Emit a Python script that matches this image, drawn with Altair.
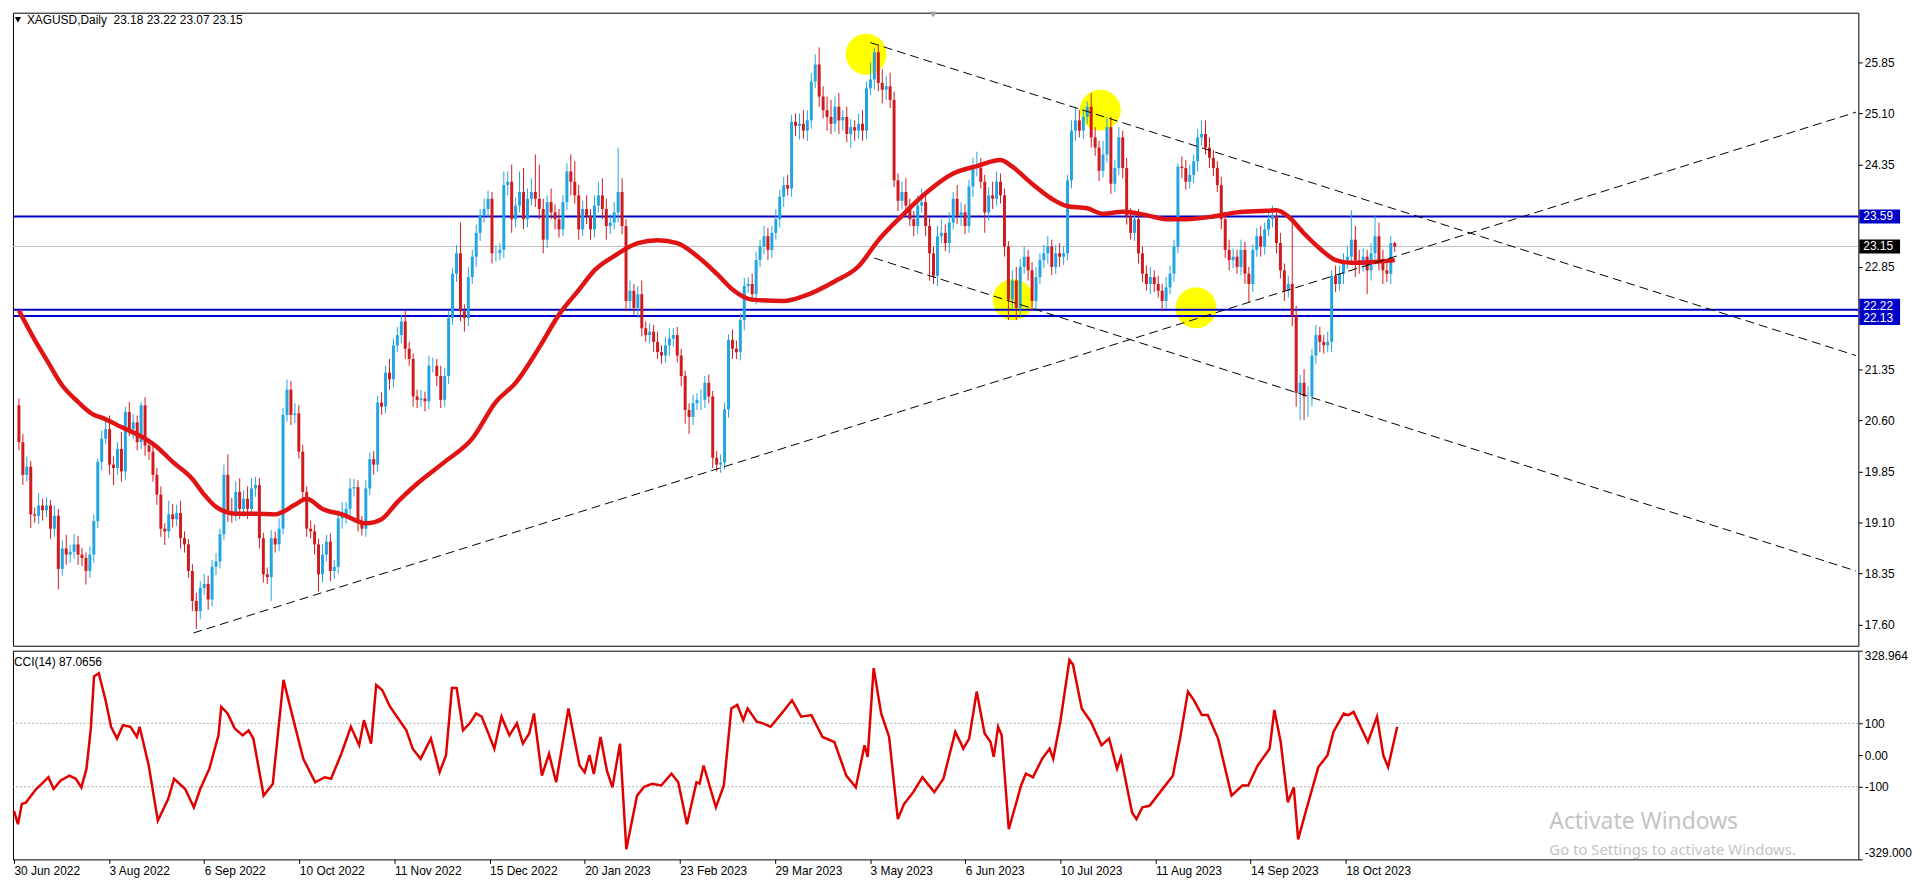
import altair as alt
import pandas as pd

# ---------------- data ----------------
first_open = 20.82
closes = [
    20.28, 19.80, 19.92, 19.22, 19.20, 19.35, 19.28, 19.35, 19.01, 19.20,
    18.42, 18.72, 18.63, 18.67, 18.78, 18.63, 18.58, 18.39, 18.63, 19.12,
    19.99, 20.33, 20.47, 19.95, 19.90, 20.18, 19.85, 20.72, 20.47, 20.57,
    20.28, 20.82, 20.23, 20.14, 19.80, 19.51, 19.01, 18.97, 19.22, 19.15,
    19.24, 18.87, 18.78, 18.39, 17.95, 17.80, 18.14, 18.20, 17.97, 18.45,
    18.53, 18.93, 19.80, 19.26, 19.22, 19.55, 19.30, 19.45, 19.30, 19.60,
    19.65, 18.87, 18.34, 18.30, 18.87, 18.78, 19.01, 20.68, 21.05, 20.68,
    20.70, 20.14, 19.55, 19.01, 18.97, 18.78, 18.34, 18.63, 18.82, 18.39,
    18.45, 19.16, 19.20, 19.30, 19.60, 19.62, 19.12, 19.01, 19.60, 20.03,
    19.95, 20.86, 20.80, 21.30, 21.20, 21.70, 21.85, 22.05, 21.65, 21.50,
    20.95, 20.90, 20.92, 20.88, 21.40, 21.40, 21.25, 20.90, 21.25, 22.10,
    22.75, 23.05, 22.20, 22.10, 22.70, 23.00, 23.35, 23.60, 23.70, 23.85,
    23.05, 23.05, 23.10, 24.05, 24.10, 23.55, 23.75, 23.95, 23.55, 23.85,
    23.95, 23.85, 23.70, 23.25, 23.80, 23.65, 23.55, 23.40, 23.80, 24.25,
    24.10, 23.90, 23.40, 23.70, 23.60, 23.40, 23.75, 23.90, 23.70, 23.45,
    23.50, 23.65, 23.95, 23.45, 22.35, 22.50, 22.25, 22.45, 21.95, 21.85,
    21.90, 21.75, 21.60, 21.55, 21.70, 21.80, 21.85, 21.55, 21.25, 20.75,
    20.65, 20.85, 20.90, 20.90, 21.15, 20.95, 20.05, 19.95, 19.98, 20.76,
    21.78, 21.65, 21.60, 22.07, 22.57, 22.60, 22.45, 22.95, 23.15, 23.30,
    23.10, 23.35, 23.55, 23.88, 24.05, 24.00, 24.98, 24.92, 24.95, 24.85,
    25.00, 25.57, 25.82, 25.35, 25.15, 25.05, 24.95, 25.20, 25.00, 25.05,
    24.80, 24.90, 24.85, 24.95, 24.85, 25.47, 25.60, 26.00, 25.55, 25.45,
    25.50, 25.30, 24.12, 23.82, 23.95, 23.75, 23.55, 23.45, 23.75, 23.80,
    23.45, 23.05, 22.72, 23.30, 23.35, 23.20, 23.50, 23.85, 23.60, 23.65,
    23.45, 24.03, 24.30, 24.30, 24.10, 23.65, 23.90, 23.85, 24.10, 23.90,
    23.15, 22.37, 22.65, 22.25, 22.85, 23.00, 22.80, 22.35, 22.70, 22.95,
    23.05, 23.15, 22.85, 23.05, 23.00, 23.05, 24.12, 24.85, 25.00, 24.85,
    25.05, 25.20, 24.75, 24.60, 24.26, 24.50, 24.90, 24.07, 24.30, 24.75,
    24.30, 23.59, 23.35, 23.55, 23.05, 22.75, 22.60, 22.70, 22.60, 22.50,
    22.35, 22.55, 22.75, 23.15, 24.32, 24.30, 24.10, 24.20, 24.40, 24.75,
    24.80, 24.60, 24.45, 24.30, 24.05, 23.55, 23.10, 22.95, 23.00, 22.85,
    23.10, 22.75, 22.60, 23.10, 23.30, 23.15, 23.40, 23.55, 23.60, 23.20,
    22.80, 22.50, 22.60, 22.13, 21.00, 21.15, 20.95, 20.95, 21.55, 21.85,
    21.75, 21.70, 21.75, 22.72, 22.60, 22.75, 22.95, 23.00, 23.25, 22.95,
    22.90, 23.00, 22.80, 23.05, 23.30, 22.95, 22.80, 22.75, 23.20, 23.15,
]
upper_wick = [
    0.10, 0.12, 0.15, 0.08, 0.10, 0.18, 0.10, 0.12, 0.08, 0.15,
    0.10, 0.12, 0.20, 0.10, 0.15, 0.12, 0.10, 0.08, 0.12, 0.10,
    0.05, 0.12, 0.15, 0.20, 0.12, 0.10, 0.25, 0.08, 0.15, 0.12,
    0.10, 0.05, 0.12, 0.10, 0.15, 0.10, 0.12, 0.08, 0.20, 0.15,
    0.12, 0.18, 0.10, 0.08, 0.10, 0.12, 0.10, 0.15, 0.12, 0.10,
    0.12, 0.08, 0.15, 0.30, 0.20, 0.15, 0.20, 0.12, 0.18, 0.15,
    0.12, 0.10, 0.08, 0.10, 0.12, 0.10, 0.15, 0.10, 0.15, 0.12,
    0.15, 0.12, 0.10, 0.08, 0.12, 0.10, 0.08, 0.15, 0.10, 0.12,
    0.10, 0.12, 0.20, 0.10, 0.15, 0.12, 0.10, 0.08, 0.12, 0.10,
    0.12, 0.10, 0.15, 0.10, 0.20, 0.10, 0.12, 0.10, 0.17, 0.10,
    0.08, 0.10, 0.12, 0.10, 0.15, 0.12, 0.10, 0.15, 0.12, 0.10,
    0.08, 0.12, 0.45, 0.10, 0.15, 0.10, 0.12, 0.10, 0.15, 0.12,
    0.10, 0.12, 0.10, 0.20, 0.15, 0.25, 0.12, 0.30, 0.35, 0.15,
    0.20, 0.55, 0.50, 0.15, 0.10, 0.20, 0.12, 0.15, 0.10, 0.12,
    0.25, 0.30, 0.15, 0.12, 0.20, 0.10, 0.15, 0.20, 0.25, 0.15,
    0.12, 0.15, 0.65, 0.20, 0.10, 0.15, 0.10, 0.12, 0.20, 0.10,
    0.12, 0.10, 0.15, 0.10, 0.12, 0.15, 0.10, 0.12, 0.10, 0.08,
    0.10, 0.12, 0.10, 0.15, 0.10, 0.12, 0.08, 0.10, 0.12, 0.10,
    0.08, 0.15, 0.12, 0.10, 0.12, 0.10, 0.15, 0.12, 0.10, 0.15,
    0.12, 0.10, 0.15, 0.10, 0.12, 0.15, 0.10, 0.12, 0.15, 0.20,
    0.15, 0.12, 0.15, 0.25, 0.15, 0.20, 0.25, 0.15, 0.20, 0.10,
    0.15, 0.12, 0.10, 0.15, 0.20, 0.10, 0.25, 0.06, 0.10, 0.20,
    0.15, 0.20, 0.12, 0.10, 0.15, 0.20, 0.10, 0.12, 0.15, 0.20,
    0.15, 0.12, 0.10, 0.15, 0.20, 0.12, 0.15, 0.10, 0.20, 0.15,
    0.12, 0.10, 0.15, 0.24, 0.15, 0.10, 0.12, 0.20, 0.15, 0.12,
    0.10, 0.08, 0.15, 0.20, 0.12, 0.15, 0.10, 0.12, 0.15, 0.10,
    0.12, 0.15, 0.10, 0.12, 0.15, 0.10, 0.08, 0.15, 0.20, 0.15,
    0.12, 0.08, 0.20, 0.15, 0.10, 0.20, 0.15, 0.15, 0.12, 0.15,
    0.10, 0.15, 0.12, 0.10, 0.15, 0.10, 0.12, 0.15, 0.10, 0.12,
    0.10, 0.15, 0.12, 0.10, 0.05, 0.15, 0.12, 0.15, 0.10, 0.12,
    0.20, 0.20, 0.15, 0.12, 0.10, 0.12, 0.10, 0.15, 0.12, 0.10,
    0.15, 0.12, 0.10, 0.08, 0.12, 0.15, 0.10, 0.12, 0.15, 0.10,
    0.15, 0.10, 0.12, 0.90, 0.15, 0.12, 0.20, 0.15, 0.10, 0.15,
    0.12, 0.10, 0.15, 0.08, 0.15, 0.12, 0.10, 0.15, 0.43, 0.20,
    0.15, 0.12, 0.10, 0.15, 0.30, 0.20, 0.15, 0.12, 0.10, 0.02,
]
lower_wick = [
    0.12, 0.15, 0.10, 0.20, 0.10, 0.12, 0.15, 0.10, 0.15, 0.12,
    0.30, 0.10, 0.15, 0.12, 0.10, 0.15, 0.12, 0.20, 0.10, 0.12,
    0.10, 0.12, 0.08, 0.15, 0.25, 0.10, 0.15, 0.12, 0.10, 0.15,
    0.12, 0.10, 0.15, 0.12, 0.10, 0.15, 0.12, 0.20, 0.10, 0.12,
    0.10, 0.15, 0.12, 0.10, 0.15, 0.26, 0.12, 0.10, 0.15, 0.10,
    0.12, 0.10, 0.08, 0.15, 0.12, 0.10, 0.15, 0.12, 0.15, 0.10,
    0.12, 0.15, 0.12, 0.10, 0.35, 0.12, 0.10, 0.08, 0.10, 0.15,
    0.12, 0.10, 0.15, 0.12, 0.10, 0.15, 0.25, 0.12, 0.10, 0.15,
    0.12, 0.10, 0.15, 0.12, 0.10, 0.12, 0.15, 0.10, 0.12, 0.10,
    0.15, 0.10, 0.12, 0.10, 0.15, 0.12, 0.10, 0.12, 0.15, 0.10,
    0.15, 0.12, 0.10, 0.15, 0.12, 0.10, 0.15, 0.12, 0.10, 0.12,
    0.10, 0.12, 0.15, 0.20, 0.12, 0.10, 0.15, 0.12, 0.10, 0.12,
    0.15, 0.12, 0.10, 0.12, 0.15, 0.20, 0.12, 0.10, 0.15, 0.12,
    0.10, 0.12, 0.15, 0.20, 0.12, 0.10, 0.15, 0.12, 0.10, 0.12,
    0.20, 0.12, 0.15, 0.10, 0.12, 0.15, 0.12, 0.10, 0.15, 0.20,
    0.12, 0.10, 0.15, 0.12, 0.15, 0.12, 0.10, 0.15, 0.12, 0.10,
    0.12, 0.15, 0.10, 0.12, 0.10, 0.15, 0.12, 0.10, 0.15, 0.20,
    0.25, 0.12, 0.10, 0.15, 0.12, 0.10, 0.15, 0.10, 0.12, 0.10,
    0.12, 0.15, 0.10, 0.12, 0.15, 0.10, 0.12, 0.15, 0.10, 0.12,
    0.15, 0.12, 0.10, 0.12, 0.15, 0.10, 0.12, 0.15, 0.20, 0.12,
    0.15, 0.12, 0.10, 0.15, 0.12, 0.20, 0.15, 0.12, 0.20, 0.15,
    0.12, 0.20, 0.15, 0.12, 0.15, 0.12, 0.10, 0.15, 0.12, 0.20,
    0.15, 0.12, 0.10, 0.15, 0.12, 0.15, 0.10, 0.15, 0.12, 0.10,
    0.15, 0.40, 0.12, 0.15, 0.10, 0.12, 0.15, 0.10, 0.12, 0.15,
    0.12, 0.10, 0.15, 0.12, 0.10, 0.30, 0.12, 0.15, 0.10, 0.12,
    0.15, 0.30, 0.12, 0.18, 0.12, 0.10, 0.15, 0.15, 0.12, 0.10,
    0.12, 0.15, 0.12, 0.10, 0.15, 0.12, 0.10, 0.12, 0.15, 0.10,
    0.12, 0.10, 0.15, 0.12, 0.15, 0.10, 0.12, 0.15, 0.12, 0.10,
    0.15, 0.12, 0.10, 0.12, 0.15, 0.12, 0.10, 0.15, 0.12, 0.10,
    0.15, 0.12, 0.10, 0.12, 0.10, 0.15, 0.12, 0.10, 0.12, 0.15,
    0.12, 0.10, 0.15, 0.12, 0.10, 0.15, 0.12, 0.15, 0.12, 0.10,
    0.12, 0.15, 0.28, 0.12, 0.10, 0.15, 0.12, 0.10, 0.12, 0.15,
    0.12, 0.15, 0.10, 0.15, 0.20, 0.40, 0.35, 0.30, 0.15, 0.12,
    0.15, 0.12, 0.10, 0.15, 0.12, 0.10, 0.15, 0.12, 0.10, 0.25,
    0.15, 0.12, 0.35, 0.15, 0.12, 0.15, 0.20, 0.12, 0.15, 0.08,
]

# moving average (thick red line), read at these bar positions
ma_idx = [0, 4, 7, 11, 15, 19, 21, 26, 32, 35, 39, 44, 47, 50, 55, 60, 65, 70, 73, 77,
          82, 88, 92, 96, 101, 108, 115, 121, 126, 132, 137, 142, 146, 151, 157, 162, 167,
          172, 177, 181, 186, 194, 199, 207, 213, 218, 224, 230, 237, 243, 249, 252, 257,
          262, 266, 271, 275, 280, 286, 291, 296, 303, 309, 315, 319, 322, 326, 330, 334,
          338, 343, 349]
ma_val = [22.21, 21.78, 21.49, 21.11, 20.87, 20.68, 20.64, 20.50, 20.33, 20.21, 19.99,
          19.74, 19.51, 19.33, 19.23, 19.23, 19.22, 19.36, 19.45, 19.30, 19.22, 19.09,
          19.15, 19.40, 19.67, 19.99, 20.33, 20.87, 21.15, 21.67, 22.15, 22.51, 22.80,
          23.01, 23.20, 23.24, 23.20, 23.01, 22.75, 22.52, 22.37, 22.35, 22.42, 22.64,
          22.86, 23.24, 23.60, 23.93, 24.22, 24.33, 24.42, 24.32, 24.07, 23.85, 23.74,
          23.71, 23.63, 23.66, 23.61, 23.55, 23.55, 23.59, 23.65, 23.67, 23.68, 23.59,
          23.34, 23.12, 22.95, 22.91, 22.92, 22.95]

# CCI(14) polyline vertices
cci_idx = [0, 1, 2, 3, 5.6, 7, 8.7, 10, 11.8, 14, 15.6, 17, 18.3, 19.4, 20.2, 21.4, 23.2,
           24.5, 26, 27.5, 29.4, 31, 31.7, 34, 36.3, 38.9, 40.4, 43.2, 45.4, 47, 49.3, 51.6,
           52.3, 53.9, 55.7, 57.7, 59.2, 60.4, 63, 65.3, 68, 70, 73, 76, 78.4, 80, 82.6, 85,
           87.1, 88.3, 90.1, 91.4, 92.9, 94.9, 99, 100.6, 102.6, 105.2, 107.4, 109, 110.5,
           111.7, 113.3, 115, 116.6, 118, 119.7, 121.2, 123, 125, 126.9, 128.4, 130, 131.2,
           133.2, 135, 136.8, 139.9, 142.7, 144, 145.2, 146.3, 148, 149.6, 151, 152.9, 154.5,
           157.2, 159, 161, 163.3, 165.9, 167.6, 169.8, 172.2, 173, 174, 177.1, 179.1, 181,
           182.5, 184, 185.1, 187.4, 189, 190.9, 194, 196.3, 198.6, 201.2, 204, 207, 210,
           212.4, 214.6, 215.4, 216.9, 218.8, 220.8, 223, 224.6, 226.9, 229.2, 232.2, 234.5,
           237.5, 238.8, 239.5, 241, 242.9, 244.9, 246.4, 247.2, 248.3, 249.2, 251, 254.1,
           255.3, 257.1, 259.4, 261.3, 262.2, 264, 266.3, 267.2, 269.4, 271.7, 274.4, 276.3,
           278.3, 279.3, 282.1, 283.2, 284.7, 286.5, 290.1, 292.4, 294.2, 296.2, 297.7,
           299.7, 301.2, 303.8, 307.2, 309.9, 311.4, 313.8, 316.8, 318, 319.6, 321.4, 322.9,
           324, 326.1, 329.1, 331.4, 332.9, 335.5, 336.7, 338, 341.6, 343.9, 345.5, 346.7, 349]
cci_val = [-176, -218, -154, -150, -107, -91, -70, -107, -80, -65, -75, -102, -43, 84, 248,
           258, 168, 89, 52, 94, 89, 57, 89, -33, -207, -139, -75, -107, -165, -107, -43, 62,
           152, 131, 84, 62, 78, 52, -128, -91, 237, 136, -12, -86, -70, -75, 4, 89, 31, 110,
           36, 221, 205, 152, 78, 20, -12, 52, -54, -1, 211, 211, 78, 100, 131, 121, 68, 20,
           121, 62, 100, 36, 68, 131, -65, 4, -86, 147, -33, -54, 0, -60, 57, -49, -102, 36,
           -297, -128, -100, -91, -96, -59, -86, -218, -86, -90, -33, -165, -96, 147, 158, 110,
           147, 105, 100, 89, 136, 173, 121, 126, 57, 41, -65, -102, 31, -6, 274, 131, 57,
           -202, -154, -117, -70, -117, -75, 73, 40, 20, 52, 200, 68, 41, -6, 89, 62, -234,
           -96, -59, -70, -12, 20, -12, 105, 300, 285, 147, 105, 31, 52, -43, -6, -181, -202,
           -165, -160, -102, -65, 52, 200, 173, 126, 126, 52, -128, -96, -96, -33, 20, 142,
           41, -149, -102, -266, -170, -38, -1, 73, 131, 126, 136, 41, 121, -1, -38, 89]

date_ticks = [0, 24, 48, 72, 96, 120, 144, 168, 192, 216, 240, 264, 288, 312, 336]
date_labels = ["30 Jun 2022", "3 Aug 2022", "6 Sep 2022", "10 Oct 2022", "11 Nov 2022",
               "15 Dec 2022", "20 Jan 2023", "23 Feb 2023", "29 Mar 2023", "3 May 2023",
               "6 Jun 2023", "10 Jul 2023", "11 Aug 2023", "14 Sep 2023", "18 Oct 2023"]
price_ticks = [25.85, 25.10, 24.35, 22.85, 21.35, 20.60, 19.85, 19.10, 18.35, 17.60]
cci_ticks = [328.964, 100, 0, -100, -329.0]
cci_tick_labels = ["328.964", "100", "0.00", "-100", "-329.000"]
cci_levels = [100, -100]

blue_levels = [23.59, 22.22, 22.13]
current_price = 23.15

trend_names = ["support", "upper", "lower"]
trend_x0 = [44.25, 216.0, 217.0]
trend_p0 = [17.48, 26.14, 22.98]
trend_x1 = [466.0, 466.0, 466.0]
trend_p1 = [25.12, 21.55, 18.39]

circle_idx = [214.9, 274.3, 252.2, 298.6]
circle_price = [25.97, 25.15, 22.37, 22.25]

main_title = "XAGUSD,Daily\u00a0\u00a023.18 23.22 23.07 23.15"
cci_title = "CCI(14) 87.0656"
watermark = ["Activate Windows", "Go to Settings to activate Windows."]

# ---------------- layout / style ----------------
W = 1857
H_MAIN = 637
H_CCI = 210
X_DOM = [-0.25, 465.34]
P_DOM = [17.293, 26.579]
C_DOM = [-329.0, 328.964]
UP = "#23A5E3"
DOWN = "#D01A1E"
MA_COL = "#E01414"
BLUE = "#0000C8"
FONT = "Liberation Sans"

opens = [first_open] + closes[:-1]
candles = pd.DataFrame({
    "idx": list(range(len(closes))),
    "open": opens,
    "close": closes,
    "high": [max(o, c) + u for o, c, u in zip(opens, closes, upper_wick)],
    "low": [min(o, c) - l for o, c, l in zip(opens, closes, lower_wick)],
    "dir": ["up" if c >= o else "down" for o, c in zip(opens, closes)],
})
ma_df = pd.DataFrame({"idx": ma_idx, "price": ma_val})
cci_df = pd.DataFrame({"idx": cci_idx, "cci": cci_val})
trend_df = pd.DataFrame({
    "line": trend_names * 2,
    "idx": trend_x0 + trend_x1,
    "price": trend_p0 + trend_p1,
})
circles_df = pd.DataFrame({"idx": circle_idx, "price": circle_price})
blue_df = pd.DataFrame({"price": blue_levels})
cur_df = pd.DataFrame({"price": [current_price]})

xs = alt.Scale(domain=X_DOM, nice=False, zero=False)
ps = alt.Scale(domain=P_DOM, nice=False, zero=False)
cs = alt.Scale(domain=C_DOM, nice=False, zero=False)

price_axis = alt.Axis(orient="right", values=price_ticks, format=".2f", title=None,
                      tickSize=4, labelPadding=2, grid=False, domain=False)


def X(field="idx"):
    return alt.X(f"{field}:Q", scale=xs, axis=None)


def P(field):
    return alt.Y(f"{field}:Q", scale=ps, axis=price_axis)


color_dir = alt.Color("dir:N", scale=alt.Scale(domain=["up", "down"], range=[UP, DOWN]),
                      legend=None)

circles = alt.Chart(circles_df).mark_circle(size=1700, color="#FFFF00", opacity=1).encode(
    x=X(), y=P("price"))
cur_line = alt.Chart(cur_df).mark_rule(color="#BDBDBD", strokeWidth=1).encode(y=P("price"))
blue_lines = alt.Chart(blue_df).mark_rule(color=BLUE, strokeWidth=2).encode(y=P("price"))
wicks = alt.Chart(candles).mark_rule(strokeWidth=1).encode(
    x=X(), y=P("low"), y2="high:Q", color=color_dir)
bodies = alt.Chart(candles).mark_bar(size=3).encode(
    x=X(), y=P("open"), y2="close:Q", color=color_dir)
ma_line = alt.Chart(ma_df).mark_line(color=MA_COL, strokeWidth=4.5,
                                     interpolate="monotone").encode(x=X(), y=P("price"))
trends = alt.Chart(trend_df).mark_line(color="black", strokeWidth=1, strokeDash=[9, 5],
                                       clip=True).encode(
    x=X(), y=P("price"), detail="line:N")

# price label boxes on the right scale (upper 22.22 box sits slightly higher so its
# text peeks out above the 22.13 box, as in the terminal)
box_df1 = pd.DataFrame({"price": [blue_levels[0]], "txt": [f"{blue_levels[0]:.2f}"]})
box_df1b = pd.DataFrame({"price": [blue_levels[1]], "txt": [f"{blue_levels[1]:.2f}"]})
box_df2 = pd.DataFrame({"price": [blue_levels[2]], "txt": [f"{blue_levels[2]:.2f}"]})
box_cur = pd.DataFrame({"price": [current_price], "txt": [f"{current_price:.2f}"]})


def box_layers(df, fill, shift=0.0):
    base = alt.Chart(df).transform_calculate(
        c=f"datum.price + {shift}",
        lo=f"datum.price + {shift} - 0.102", hi=f"datum.price + {shift} + 0.102")
    rect = base.mark_rect(color=fill).encode(
        x=alt.value(W + 1), x2=alt.value(W + 42), y=P("lo"), y2="hi:Q")
    txt = base.mark_text(align="left", baseline="middle", color="white", font=FONT,
                         fontSize=12).encode(x=alt.value(W + 5), y=P("c"), text="txt:N")
    return [rect, txt]


title_df = pd.DataFrame({"t": [main_title]})
title_txt = alt.Chart(title_df).mark_text(align="left", baseline="middle", font=FONT,
                                          fontSize=12, color="black").encode(
    x=alt.value(14), y=alt.value(7), text="t:N")
title_tri = alt.Chart(title_df).mark_point(shape="triangle-down", filled=True, color="black",
                                           size=40, opacity=1).encode(
    x=alt.value(5), y=alt.value(7))
shift_tri = alt.Chart(title_df).mark_point(shape="triangle-down", filled=True, color="#A0A0A0",
                                           size=45, opacity=1).encode(
    x=alt.value(926), y=alt.value(2))

main = alt.layer(
    circles, cur_line, blue_lines, wicks, bodies, ma_line, trends,
    *box_layers(box_df1, BLUE), *box_layers(box_cur, "black"),
    *box_layers(box_df1b, BLUE, 0.06), *box_layers(box_df2, BLUE, -0.03),
    title_tri, title_txt, shift_tri,
).properties(width=W, height=H_MAIN)

# ---------------- CCI panel ----------------
date_expr = ("[" + ",".join(f"'{l}'" for l in date_labels) + "][indexof(["
             + ",".join(str(t) for t in date_ticks) + "], datum.value)]")
cci_expr = ("[" + ",".join(f"'{l}'" for l in cci_tick_labels) + "][indexof(["
            + ",".join(str(t) for t in cci_ticks) + "], datum.value)]")

date_axis = alt.Axis(values=date_ticks, labelExpr=date_expr, title=None, tickSize=4,
                     labelPadding=2, labelAlign="left", labelBaseline="top", labelFlush=False,
                     labelOverlap=False, grid=False, domain=False)
cci_axis = alt.Axis(orient="right", values=cci_ticks, labelExpr=cci_expr, title=None,
                    tickSize=4, labelPadding=2, labelFlush=True, grid=False, domain=False)

lvl_df = pd.DataFrame({"cci": cci_levels})
cci_lvls = alt.Chart(lvl_df).mark_rule(color="#A8A8A8", strokeWidth=1, strokeDash=[2, 2]).encode(
    y=alt.Y("cci:Q", scale=cs, axis=cci_axis))
cci_line = alt.Chart(cci_df).mark_line(color="#E00000", strokeWidth=2.5).encode(
    x=alt.X("idx:Q", scale=xs, axis=date_axis),
    y=alt.Y("cci:Q", scale=cs, axis=cci_axis))
cci_t = alt.Chart(pd.DataFrame({"t": [cci_title]})).mark_text(
    align="left", baseline="middle", font=FONT, fontSize=12, color="black").encode(
    x=alt.value(1), y=alt.value(11), text="t:N")
wm1 = alt.Chart(pd.DataFrame({"t": [watermark[0]]})).mark_text(
    align="left", baseline="middle", font="Noto Sans", fontSize=23, color="#C4C4C4").encode(
    x=alt.value(1546), y=alt.value(172), text="t:N")
wm2 = alt.Chart(pd.DataFrame({"t": [watermark[1]]})).mark_text(
    align="left", baseline="middle", font="Noto Sans", fontSize=15, color="#C4C4C4").encode(
    x=alt.value(1546), y=alt.value(201), text="t:N")

cci = alt.layer(cci_lvls, cci_line, cci_t, wm1, wm2).properties(width=W, height=H_CCI)

chart = alt.vconcat(main, cci, spacing=2).properties(
    padding={"left": 0, "top": 0, "right": 0, "bottom": 0},
    background="white",
).configure_view(
    stroke="black", strokeWidth=1
).configure_axis(
    labelFont=FONT, labelFontSize=12, labelColor="black", tickColor="black"
)

chart.save("out.html", embed_options={"renderer": "svg", "actions": False})
